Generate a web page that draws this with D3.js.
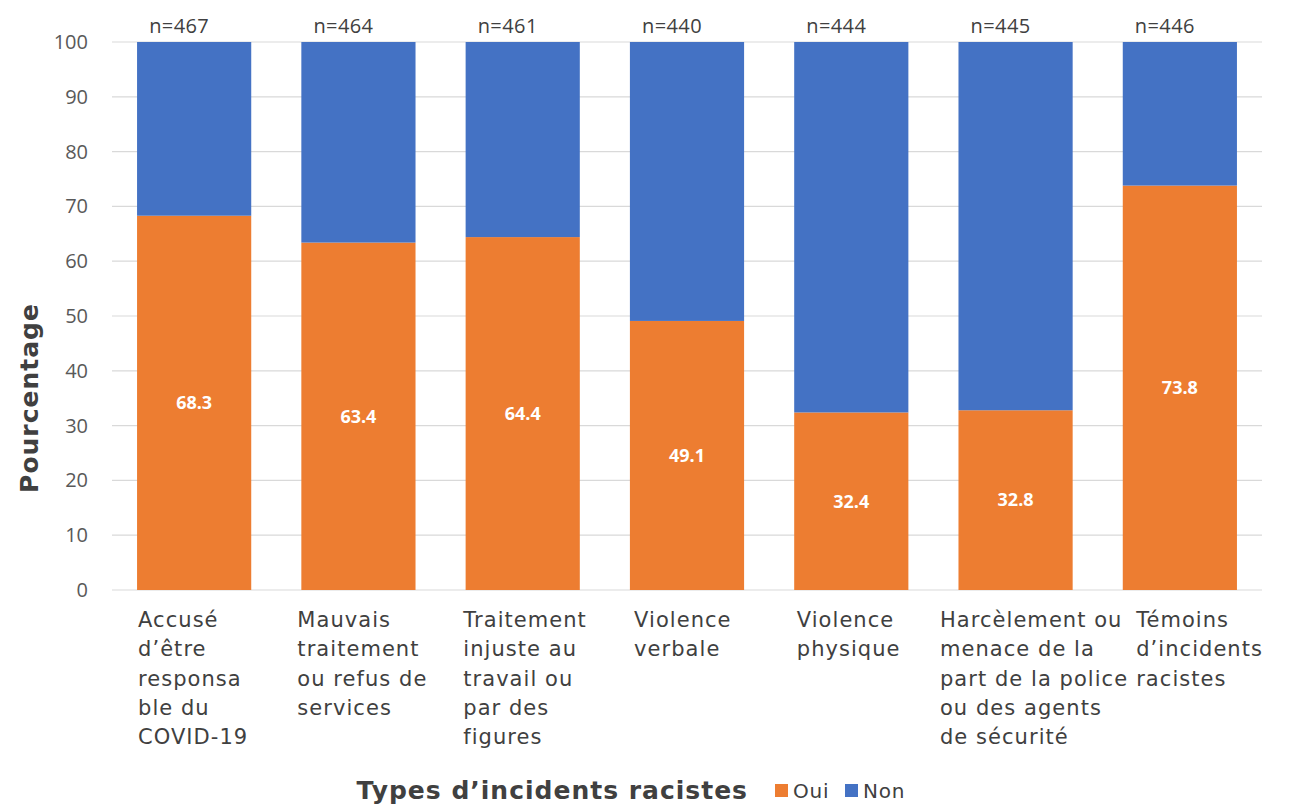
<!DOCTYPE html>
<html>
<head>
<meta charset="utf-8">
<script src="https://cdn.jsdelivr.net/npm/d3@7"></script>
<style>
  body { margin: 0; background: #fff; }
</style>
</head>
<body>
<div id="chart"></div>
<script>
const categories = [
  ["Accusé", "d’être", "responsa", "ble du", "COVID-19"],
  ["Mauvais", "traitement", "ou refus de", "services"],
  ["Traitement", "injuste au", "travail ou", "par des", "figures"],
  ["Violence", "verbale"],
  ["Violence", "physique"],
  ["Harcèlement ou", "menace de la", "part de la police", "ou des agents", "de sécurité"],
  ["Témoins", "d’incidents", "racistes"]
];
const sampleSizes = ["n=467", "n=464", "n=461", "n=440", "n=444", "n=445", "n=446"];
const oui = [68.3, 63.4, 64.4, 49.1, 32.4, 32.8, 73.8];
const non = oui.map(v => 100 - v);
const yTicks = [0, 10, 20, 30, 40, 50, 60, 70, 80, 90, 100];

const width = 1298;
const height = 805;
const margin = { left: 112, right: 36, top: 42, bottom: 215 };
const colors = { oui: "#ED7D31", non: "#4472C4" };
const numFont = "Open Sans, sans-serif";
const txtFont = "DejaVu Sans, sans-serif";

const svg = d3.select("#chart")
  .append("svg")
  .attr("width", width)
  .attr("height", height);

const xScale = d3.scaleBand()
  .domain(d3.range(categories.length))
  .range([margin.left, width - margin.right])
  .paddingInner(0.305)
  .paddingOuter(0.1525);

const yScale = d3.scaleLinear()
  .domain([0, 100])
  .range([height - margin.bottom, margin.top]);

// gridlines
svg.append("g")
  .selectAll("line")
  .data(yTicks)
  .join("line")
  .attr("x1", margin.left)
  .attr("x2", width - margin.right)
  .attr("y1", d => yScale(d))
  .attr("y2", d => yScale(d))
  .attr("stroke", "#d9d9d9")
  .attr("stroke-width", 1.2);

const yAxis = d3.axisLeft(yScale).tickValues(yTicks).tickSize(0).tickPadding(24);
const yg = svg.append("g")
  .attr("transform", `translate(${margin.left}, 0)`)
  .call(yAxis);
yg.select(".domain").remove();
yg.selectAll("text")
  .attr("font-family", numFont)
  .attr("font-size", 20)
  .attr("fill", "#595959");

const stacked = d3.stack().keys(["oui", "non"])(oui.map((v, i) => ({ oui: v, non: non[i] })));

svg.append("g")
  .selectAll("g")
  .data(stacked)
  .join("g")
  .attr("fill", d => colors[d.key])
  .selectAll("rect")
  .data(d => d)
  .join("rect")
  .attr("x", (d, i) => xScale(i))
  .attr("width", xScale.bandwidth())
  .attr("y", d => yScale(d[1]))
  .attr("height", d => yScale(d[0]) - yScale(d[1]));

// value labels
svg.append("g")
  .selectAll("text")
  .data(oui)
  .join("text")
  .attr("x", (d, i) => xScale(i) + xScale.bandwidth() / 2)
  .attr("y", d => yScale(d / 2))
  .attr("dy", "0.35em")
  .attr("text-anchor", "middle")
  .attr("font-family", numFont)
  .attr("font-weight", "bold")
  .attr("font-size", 18)
  .attr("fill", "#fff")
  .text(d => d.toFixed(1));

// n= labels
svg.append("g")
  .selectAll("text")
  .data(sampleSizes)
  .join("text")
  .attr("x", (d, i) => xScale(i) + xScale.bandwidth() / 2 - 15)
  .attr("y", margin.top - 9)
  .attr("text-anchor", "middle")
  .attr("font-family", numFont)
  .attr("font-size", 20)
  .attr("letter-spacing", 0.4)
  .attr("fill", "#404040")
  .text(d => d);

// category labels: left-aligned lines, block placed between bar start and centred,
// pushed right if it would run into the previous block
const catG = svg.append("g")
  .selectAll("text")
  .data(categories)
  .join("text")
  .attr("y", yScale(0) + 37)
  .attr("font-family", txtFont)
  .attr("font-size", 21)
  .attr("letter-spacing", 1.05)
  .attr("fill", "#404040");
catG.selectAll("tspan")
  .data(d => d)
  .join("tspan")
  .attr("dy", (d, j) => j === 0 ? 0 : 29.3)
  .text(d => d);
let prevRight = -Infinity;
catG.each(function (d, i) {
  const t = d3.select(this);
  const w = d3.max(t.selectAll("tspan").nodes(), n => n.getComputedTextLength());
  const centred = xScale(i) + xScale.bandwidth() / 2 - w / 2;
  const left = Math.max((xScale(i) + centred) / 2, prevRight + 8);
  t.selectAll("tspan").attr("x", left);
  prevRight = left + w;
});

// y title
svg.append("text")
  .attr("transform", `translate(38, 398) rotate(-90)`)
  .attr("text-anchor", "middle")
  .attr("font-family", txtFont)
  .attr("font-weight", "bold")
  .attr("font-size", 25)
  .attr("letter-spacing", 1)
  .attr("fill", "#404040")
  .text("Pourcentage");

// x title + legend
svg.append("text")
  .attr("x", 748)
  .attr("y", 799)
  .attr("text-anchor", "end")
  .attr("font-family", txtFont)
  .attr("font-weight", "bold")
  .attr("font-size", 25)
  .attr("letter-spacing", 1)
  .attr("fill", "#404040")
  .text("Types d’incidents racistes");

const legend = [{ key: "oui", label: "Oui", x: 775 }, { key: "non", label: "Non", x: 845 }];
const lg = svg.append("g").selectAll("g").data(legend).join("g")
  .attr("transform", d => `translate(${d.x}, 784)`);
lg.append("rect").attr("width", 13).attr("height", 13).attr("fill", d => colors[d.key]);
lg.append("text")
  .attr("x", 18)
  .attr("y", 14)
  .attr("font-family", txtFont)
  .attr("font-size", 20)
  .attr("letter-spacing", 0.8)
  .attr("fill", "#404040")
  .text(d => d.label);
</script>
</body>
</html>
